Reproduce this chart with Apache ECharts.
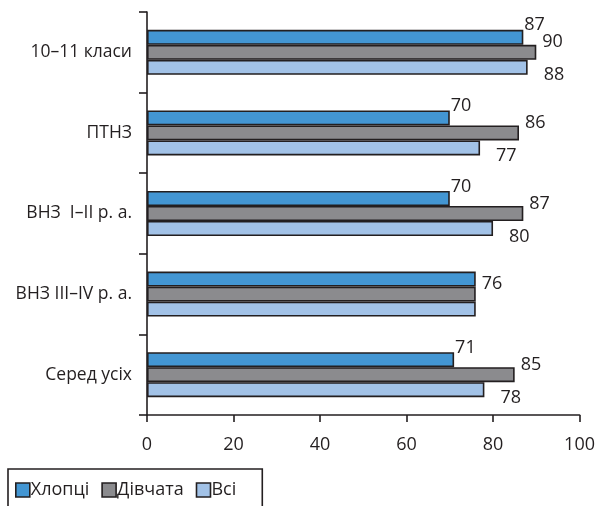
<!DOCTYPE html>
<html>
<head>
<meta charset="utf-8">
<script src="https://cdn.jsdelivr.net/npm/echarts@6/dist/echarts.min.js"></script>
<style>
  html, body { margin: 0; padding: 0; background: #fff; }
  #chart { width: 598px; height: 506px; }
</style>
</head>
<body>
<div id="chart"></div>
<script>
// Categories, listed top to bottom
const categories = ['10–11 класи', 'ПТНЗ', 'ВНЗ  I–II р. а.', 'ВНЗ III–IV р. а.', 'Серед усіх'];
const seriesNames = ['Хлопці', 'Дівчата', 'Всі'];
const boys  = [87, 70, 70, 76, 71];
const girls = [90, 86, 87, 76, 85];
const all   = [88, 77, 80, 76, 78];
const xTicks = [0, 20, 40, 60, 80, 100];

const ink = '#231f20';
const font = 'Open Sans';
const colors = ['#4396d3', '#8b8b8e', '#a2c2e7'];

// Where all three groups share one value, only the middle bar carries the label
const sameValue = categories.map((c, i) => boys[i] === girls[i] && girls[i] === all[i]);

const labelBase = {
  show: true,
  position: 'right',
  color: ink,
  fontFamily: font,
  fontSize: 18
};

function makeSeries(name, values, idx, label) {
  return {
    name: name,
    type: 'bar',
    data: values,
    barWidth: 15,
    barGap: '0%',
    itemStyle: { color: colors[idx], borderColor: ink, borderWidth: 1.6 },
    label: Object.assign({}, labelBase, label, {
      formatter: p => (idx !== 1 && sameValue[p.dataIndex]) ? '' : String(p.value)
    }),
    emphasis: { disabled: true }
  };
}

const chart = echarts.init(document.getElementById('chart'), null, { renderer: 'canvas' });
chart.setOption({
  animation: false,
  textStyle: { fontFamily: font, color: ink },
  grid: { left: 147, right: 15, top: 12, bottom: 91, containLabel: false },
  legend: {
    left: 8,
    top: 469,
    orient: 'horizontal',
    data: seriesNames,
    icon: 'rect',
    itemWidth: 14,
    itemHeight: 14,
    itemGap: 12,
    padding: [12, 26, 40, 7],
    borderColor: ink,
    borderWidth: 1.6,
    itemStyle: { borderColor: ink, borderWidth: 1.6 },
    textStyle: { fontFamily: font, fontSize: 18, color: ink, padding: [0, 0, 0, -4] }
  },
  xAxis: {
    type: 'value',
    min: xTicks[0],
    max: xTicks[xTicks.length - 1],
    interval: xTicks[1] - xTicks[0],
    axisLine: { show: true, lineStyle: { color: ink, width: 1.6 } },
    axisTick: { show: true, length: 7, lineStyle: { color: ink, width: 1.6 } },
    axisLabel: { margin: 21, fontFamily: font, fontSize: 18, color: ink },
    splitLine: { show: false }
  },
  yAxis: {
    type: 'category',
    data: categories,
    inverse: true,
    axisLine: { show: true, lineStyle: { color: ink, width: 1.6 } },
    axisTick: { show: true, length: 8, lineStyle: { color: ink, width: 1.6 } },
    axisLabel: { margin: 15, fontFamily: font, fontSize: 17.5, color: ink }
  },
  series: [
    makeSeries(seriesNames[0], boys, 0, { distance: 1, offset: [0, -12] }),
    makeSeries(seriesNames[1], girls, 1, { distance: 6, offset: [0, -10] }),
    makeSeries(seriesNames[2], all, 2, { distance: 16, offset: [0, 8] })
  ]
});
</script>
</body>
</html>
